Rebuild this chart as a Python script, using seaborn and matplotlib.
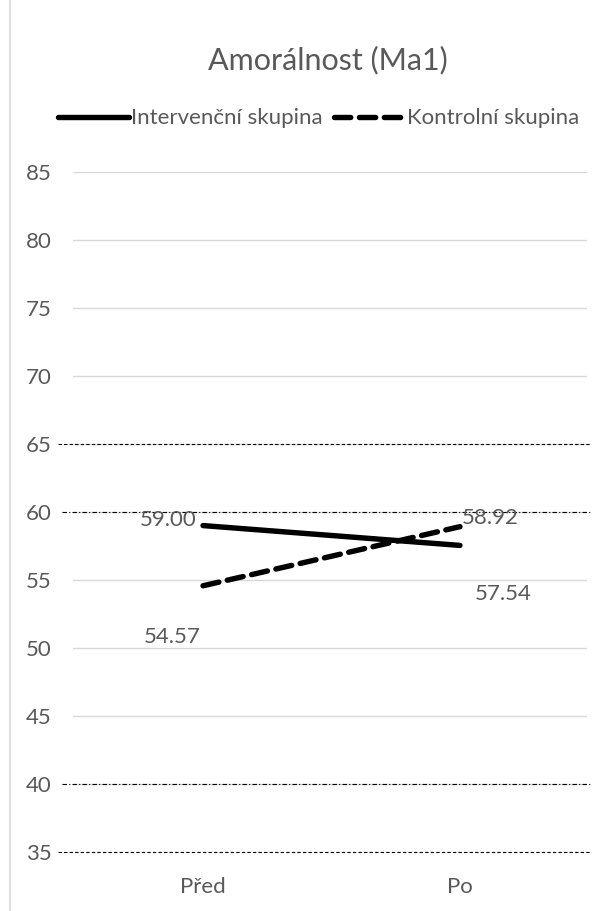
import numpy as np
import pandas as pd
import seaborn as sns
import matplotlib.pyplot as plt
from matplotlib.lines import Line2D

# data
phases = ["Před", "Po"]
groups = ["Intervenční skupina", "Kontrolní skupina"]
interv = [59.00, 57.54]
kontrol = [54.57, 58.92]
yticks = [35, 40, 45, 50, 55, 60, 65, 70, 75, 80, 85]
dashed_refs = [65, 35]
dashdot_refs = [60, 40]

df = pd.DataFrame(
    {
        "faze": phases * 2,
        "skupina": [groups[0]] * 2 + [groups[1]] * 2,
        "hodnota": interv + kontrol,
    }
)

sns.set_style("white")
plt.rcParams["font.family"] = ["Lato", "DejaVu Sans"]
grey = "#595959"
fs = 16

fig = plt.figure(figsize=(6.01, 9.11), dpi=100)
ax = fig.add_axes([0.1215, 0.065, 0.855, 0.746])

for y in yticks:
    ax.axhline(y, color="#d9d9d9", lw=1.0, zorder=0)

sns.lineplot(
    data=df,
    x="faze",
    y="hodnota",
    style="skupina",
    dashes={groups[0]: "", groups[1]: (3, 1.6)},
    color="black",
    linewidth=3.9,
    legend=False,
    ax=ax,
    zorder=3,
)
for ln in ax.lines:
    ln.set_solid_capstyle("round")
    ln.set_dash_capstyle("round")

for y in dashed_refs:
    ax.axhline(y, xmin=-0.029, xmax=1.006, color="black", lw=0.8,
               ls=(0, (3, 2)), clip_on=False, zorder=4)
for y in dashdot_refs:
    ax.axhline(y, xmin=-0.021, xmax=1.006, color="black", lw=0.8,
               ls=(0, (4, 2, 1, 2)), clip_on=False, zorder=4)

ax.set_xlim(-0.506, 1.494)
ax.set_ylim(35, 85)
ax.set_yticks(yticks)
ax.set_xlabel("")
ax.set_ylabel("")
for s in ax.spines.values():
    s.set_visible(False)
ax.tick_params(axis="both", length=0, labelsize=fs, labelcolor=grey)
ax.tick_params(axis="y", pad=15.5)
ax.tick_params(axis="x", pad=18)

# value labels
lab_kw = dict(textcoords="offset points", fontsize=fs, color=grey,
              ha="center", va="center", zorder=5)
ax.annotate(f"{interv[0]:.2f}", (0, interv[0]), xytext=(-25, 4), **lab_kw)
ax.annotate(f"{kontrol[1]:.2f}", (1, kontrol[1]), xytext=(22, 6), **lab_kw)
ax.annotate(f"{interv[1]:.2f}", (1, interv[1]), xytext=(31, -35), **lab_kw)
ax.annotate(f"{kontrol[0]:.2f}", (0, kontrol[0]), xytext=(-22, -37), **lab_kw)

fig.text(0.545, 0.934, "Amorálnost (Ma1)", ha="center", va="center",
         fontsize=22, color=grey)

handles = [
    Line2D([], [], color="black", lw=3.9, solid_capstyle="round"),
    Line2D([], [], color="black", lw=3.9, ls=(0, (3, 1.6)),
           dash_capstyle="round"),
]
leg = fig.legend(handles, groups, loc="center", bbox_to_anchor=(0.53, 0.870),
                 ncol=2, frameon=False, fontsize=fs, handlelength=3.2,
                 handletextpad=0.1, columnspacing=0.5)
for t in leg.get_texts():
    t.set_color(grey)

fig.add_artist(Line2D([10 / 601, 10 / 601], [0, 1], color="#d9d9d9", lw=1.2,
                      transform=fig.transFigure))

fig.savefig("out.png", dpi=100)
